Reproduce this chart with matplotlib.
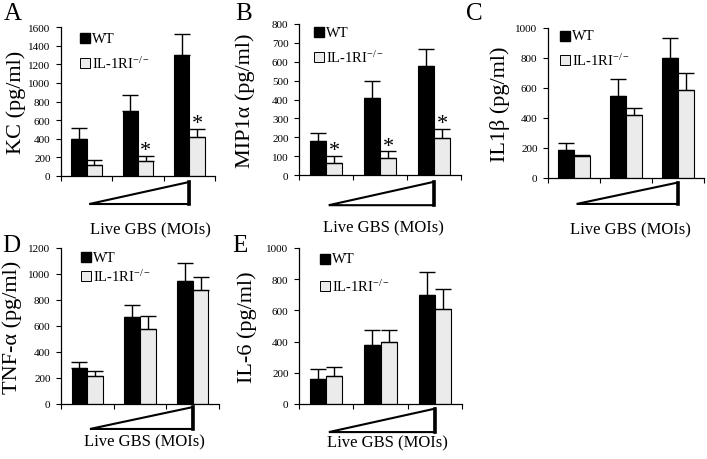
import numpy as np
import matplotlib
matplotlib.use("Agg")
import matplotlib.pyplot as plt
from matplotlib.patches import Polygon
from matplotlib.transforms import blended_transform_factory

plt.rcParams['font.family'] = ['Liberation Serif', 'DejaVu Serif']
plt.rcParams['mathtext.fontset'] = 'stix'

# cytokine levels (pg/ml) for 3 increasing MOIs
panels = ['A', 'B', 'C', 'D', 'E']
ylabels = ['KC (pg/ml)', 'MIP1α (pg/ml)', 'IL1β (pg/ml)', 'TNF-α (pg/ml)', 'IL-6 (pg/ml)']
ymax = [1600, 800, 1000, 1200, 1000]
ystep = [200, 100, 200, 200, 200]

wt_mean = [[400, 700, 1300], [180, 410, 580], [190, 550, 800], [275, 670, 945], [160, 380, 700]]
wt_err = [[120, 170, 220], [40, 90, 90], [45, 110, 135], [50, 95, 140], [65, 95, 145]]
ko_mean = [[120, 160, 420], [65, 88, 195], [145, 420, 590], [215, 575, 880], [180, 400, 610]]
ko_err = [[50, 55, 90], [35, 37, 50], [10, 45, 110], [40, 105, 95], [55, 75, 130]]
stars = [[False, True, True], [True, True, True], [False] * 3, [False] * 3, [False] * 3]

# axes boxes in pixels: left, top, right, bottom
boxes = [(61, 28, 215, 177), (299, 25, 461, 176), (548, 29, 704, 179),
         (61, 249, 219, 405), (299, 249, 462, 405)]
ylab_x = [-0.29, -0.33, -0.31, -0.31, -0.32]
xlab_pos = [(0.58, -0.356), (0.52, -0.344), (0.53, -0.34), (0.53, -0.237), (0.54, -0.244)]
tri_y = [(-0.04, -0.188), (-0.045, -0.2), (-0.03, -0.173), (-0.02, -0.16), (-0.03, -0.18)]
leg_pos = [(0.156, 0.926, 0.758), (0.123, 0.947, 0.781), (0.109, 0.947, 0.787),
           (0.158, 0.942, 0.821), (0.16, 0.93, 0.756)]

W, H = 707, 460
fig = plt.figure(figsize=(W / 100, H / 100), dpi=100)

x = np.arange(3)
bw = 0.3
ko_color = '#EBEBEB'
ekw = dict(ecolor='black', elinewidth=1, capsize=6, capthick=1)

for i in range(5):
    l, t, r, b = boxes[i]
    ax = fig.add_axes([l / W, 1 - b / H, (r - l) / W, (b - t) / H])
    ax.bar(x - bw / 2, wt_mean[i], bw, color='black', edgecolor='black', linewidth=0.8,
           yerr=[[0] * 3, wt_err[i]], error_kw=ekw)
    ax.bar(x + bw / 2, ko_mean[i], bw, color=ko_color, edgecolor='black', linewidth=0.8,
           yerr=[[0] * 3, ko_err[i]], error_kw=ekw)
    for j in range(3):
        if stars[i][j]:
            ax.annotate('*', (x[j] + bw / 2, ko_mean[i][j] + ko_err[i][j]), xytext=(0, -3),
                        textcoords='offset points', ha='center', va='bottom', fontsize=16)
    ax.set_xlim(-0.5, 2.5)
    ax.set_ylim(0, ymax[i])
    ax.set_yticks(np.arange(0, ymax[i] + 1, ystep[i]))
    ax.set_xticks([-0.5, 0.5, 1.5, 2.5])
    ax.set_xticklabels([])
    ax.tick_params(direction='out', length=3.5, width=0.8, labelsize=8, pad=4)
    for s in ['top', 'right']:
        ax.spines[s].set_visible(False)
    for s in ['left', 'bottom']:
        ax.spines[s].set_linewidth(0.9)

    ax.set_ylabel(ylabels[i], fontsize=16, va='center')
    ax.yaxis.set_label_coords(ylab_x[i], 0.5)
    ax.set_xlabel('Live GBS (MOIs)', fontsize=12, va='center')
    ax.xaxis.set_label_coords(*xlab_pos[i])

    # increasing-dose wedge under the axis
    tr = blended_transform_factory(ax.transData, ax.transAxes)
    y0, y1 = tri_y[i]
    tri = Polygon([[0.05, y1], [2.0, y0], [2.0, y1]], closed=True, facecolor='white',
                  edgecolor='black', linewidth=1.5, transform=tr, clip_on=False)
    ax.add_patch(tri)
    ax.plot([2.0, 2.0], [y0, y1], color='black', linewidth=2.6, transform=tr, clip_on=False)

    # legend
    lx, ly1, ly2 = leg_pos[i]
    ax.plot([lx], [ly1], marker='s', ms=6.5, color='black', transform=ax.transAxes, clip_on=False)
    ax.plot([lx], [ly2], marker='s', ms=6.5, mfc=ko_color, mec='black', mew=0.7,
            transform=ax.transAxes, clip_on=False)
    ax.annotate('WT', (lx, ly1), xycoords='axes fraction', xytext=(5, 0),
                textcoords='offset points', va='center', fontsize=10.5)
    ax.annotate(r'IL-1RI$^{\mathregular{-/-}}$', (lx, ly2), xycoords='axes fraction', xytext=(5, 0),
                textcoords='offset points', va='center', fontsize=10.5)

# panel letters
letters_px = [(4, 20), (235, 20), (466, 20), (2, 252), (232, 252)]
for lab, (px, py) in zip(panels, letters_px):
    fig.text(px / W, 1 - py / H, lab, fontsize=18, ha='left', va='baseline')

fig.savefig('out.png', dpi=100)
